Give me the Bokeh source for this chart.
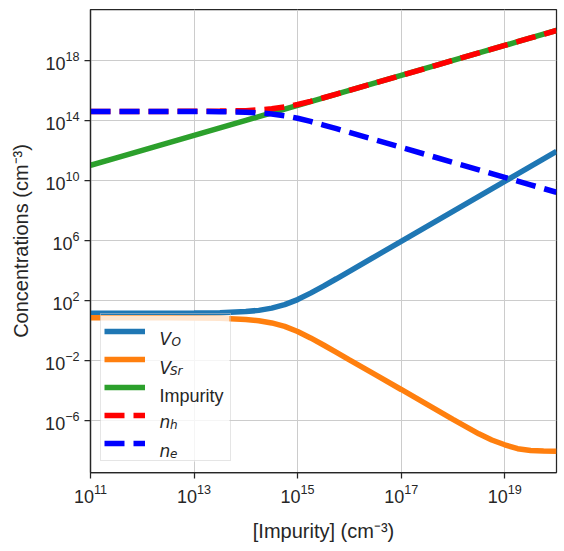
import numpy as np
from bokeh.plotting import figure
from bokeh.models import Range1d, FixedTicker, Legend, LegendItem, Label, BoxAnnotation
from bokeh.embed import file_html
from bokeh.resources import INLINE

# log10 of the impurity concentration (cm^-3)
log_impurity = [11, 11.5, 12, 12.5, 13, 13.5, 14, 14.25, 14.5, 14.75, 15, 15.25, 15.5,
                15.75, 16, 16.5, 17, 17.5, 18, 18.5, 18.75, 19, 19.25, 19.5, 19.75, 20]
# log10 of concentrations
log_v_o = [1.13, 1.13, 1.13, 1.13, 1.14, 1.16, 1.24, 1.32, 1.47, 1.70, 2.04, 2.47, 2.94,
           3.43, 3.93, 4.93, 5.93, 6.93, 7.93, 8.93, 9.43, 9.93, 10.43, 10.93, 11.43, 11.93]
log_v_sr = [0.82, 0.82, 0.82, 0.82, 0.81, 0.79, 0.71, 0.63, 0.48, 0.25, -0.09, -0.52, -0.99,
            -1.48, -1.98, -2.97, -3.96, -4.96, -5.96, -6.92, -7.33, -7.65, -7.91, -8.03, -8.07, -8.09]
log_impurity_conc = log_impurity
log_n_h = [14.60, 14.60, 14.60, 14.60, 14.61, 14.62, 14.65, 14.70, 14.77, 14.89, 15.06, 15.27, 15.51,
           15.75, 16.00, 16.50, 17.0, 17.5, 18.0, 18.5, 18.75, 19.0, 19.25, 19.5, 19.75, 20.0]
log_n_e = [14.60, 14.60, 14.60, 14.60, 14.59, 14.58, 14.55, 14.50, 14.43, 14.31, 14.14, 13.93, 13.69,
           13.45, 13.20, 12.70, 12.2, 11.7, 11.2, 10.7, 10.45, 10.2, 9.95, 9.7, 9.45, 9.2]

x_ticks = [1e11, 1e13, 1e15, 1e17, 1e19]
y_ticks = [1e-6, 1e-2, 1e2, 1e6, 1e10, 1e14, 1e18]

x = 10.0 ** np.array(log_impurity)

TXT = "#262626"
p = figure(width=564, height=551, x_axis_type="log", y_axis_type="log",
           x_range=Range1d(1e11, 1e20), y_range=Range1d(10 ** -9.5, 10 ** 21.4),
           output_backend="svg", toolbar_location=None,
           min_border_left=90, min_border_right=8, min_border_top=9, min_border_bottom=79)
p.outline_line_color = TXT
p.outline_line_width = 1.25
p.background_fill_color = "white"
p.border_fill_color = "white"

for ax in (p.xaxis, p.yaxis):
    ax.axis_line_color = TXT
    ax.axis_line_width = 1.25
    ax.major_tick_line_color = TXT
    ax.major_tick_line_width = 1.25
    ax.major_tick_out = 6
    ax.major_tick_in = 0
    ax.minor_tick_line_color = None
    ax.major_label_text_font = "Liberation Sans"
    ax.major_label_text_font_size = "18px"
    ax.major_label_text_color = TXT
    ax.axis_label_text_font = "Liberation Sans"
    ax.axis_label_text_font_size = "20px"
    ax.axis_label_text_font_style = "normal"
    ax.axis_label_text_color = TXT
    ax.major_label_standoff = 5

p.xaxis.ticker = FixedTicker(ticks=x_ticks)
p.yaxis.ticker = FixedTicker(ticks=y_ticks)
p.xaxis.axis_label = "[Impurity] (cm\u207b\u00b3)"
p.yaxis.axis_label = "Concentrations (cm\u207b\u00b3)"
p.xaxis.axis_label_standoff = 14
p.yaxis.axis_label_standoff = 10

p.xgrid.ticker = FixedTicker(ticks=x_ticks)
p.ygrid.ticker = FixedTicker(ticks=y_ticks)
p.grid.grid_line_color = "#cccccc"
p.grid.grid_line_width = 1

LW = 5.5
r_vo = p.line(x, 10.0 ** np.array(log_v_o), line_color="#1f77b4", line_width=LW)
r_vsr = p.line(x, 10.0 ** np.array(log_v_sr), line_color="#ff7f0e", line_width=LW)
r_imp = p.line(x, 10.0 ** np.array(log_impurity_conc), line_color="#2ca02c", line_width=LW)
r_nh = p.line(x, 10.0 ** np.array(log_n_h), line_color="#ff0000", line_width=LW,
              line_dash="20 9")
r_ne = p.line(x, 10.0 ** np.array(log_n_e), line_color="#0000ff", line_width=LW,
              line_dash="20 9")

# semi-transparent legend background, drawn below the legend swatches and texts
p.add_layout(BoxAnnotation(left=10, right=139, bottom=11, top=157,
                           left_units="screen", right_units="screen",
                           bottom_units="screen", top_units="screen",
                           fill_color="white", fill_alpha=0.8, line_color=None,
                           level="annotation"))

legend = Legend(items=[LegendItem(label=" ", renderers=[r]) for r in (r_vo, r_vsr, r_imp, r_nh, r_ne)],
                location=(10, 11), padding=3, spacing=0, margin=0,
                glyph_width=41, glyph_height=28, label_width=68, label_height=28,
                label_standoff=14, background_fill_alpha=0.0,
                border_line_color="#cccccc", border_line_width=1)
p.add_layout(legend)

FRAME_LEFT, FRAME_BOTTOM = 90, 472


def add_text(txt, cx, cy, size, font, style):
    p.add_layout(Label(x=cx - FRAME_LEFT, y=FRAME_BOTTOM - cy, x_units="screen", y_units="screen",
                       text=txt, text_font=font, text_font_size=size, text_font_style=style,
                       text_color=TXT, text_baseline="alphabetic", text_align="left",
                       level="overlay"))


MATH = "DejaVu Sans"
add_text("V", 159, 338.5, "17px", MATH, "italic")
add_text("O", 171, 341, "12px", MATH, "italic")
add_text("V", 159, 367.5, "17px", MATH, "italic")
add_text("Sr", 169.5, 370.5, "12px", MATH, "italic")
add_text("Impurity", 159, 395.5, "18px", "Liberation Sans", "normal")
add_text("n", 159, 421, "17px", MATH, "italic")
add_text("h", 169.5, 424, "12px", MATH, "italic")
add_text("n", 159, 450, "17px", MATH, "italic")
add_text("e", 169.5, 453, "12px", MATH, "italic")

open("out.html", "w").write(file_html(p, INLINE))
